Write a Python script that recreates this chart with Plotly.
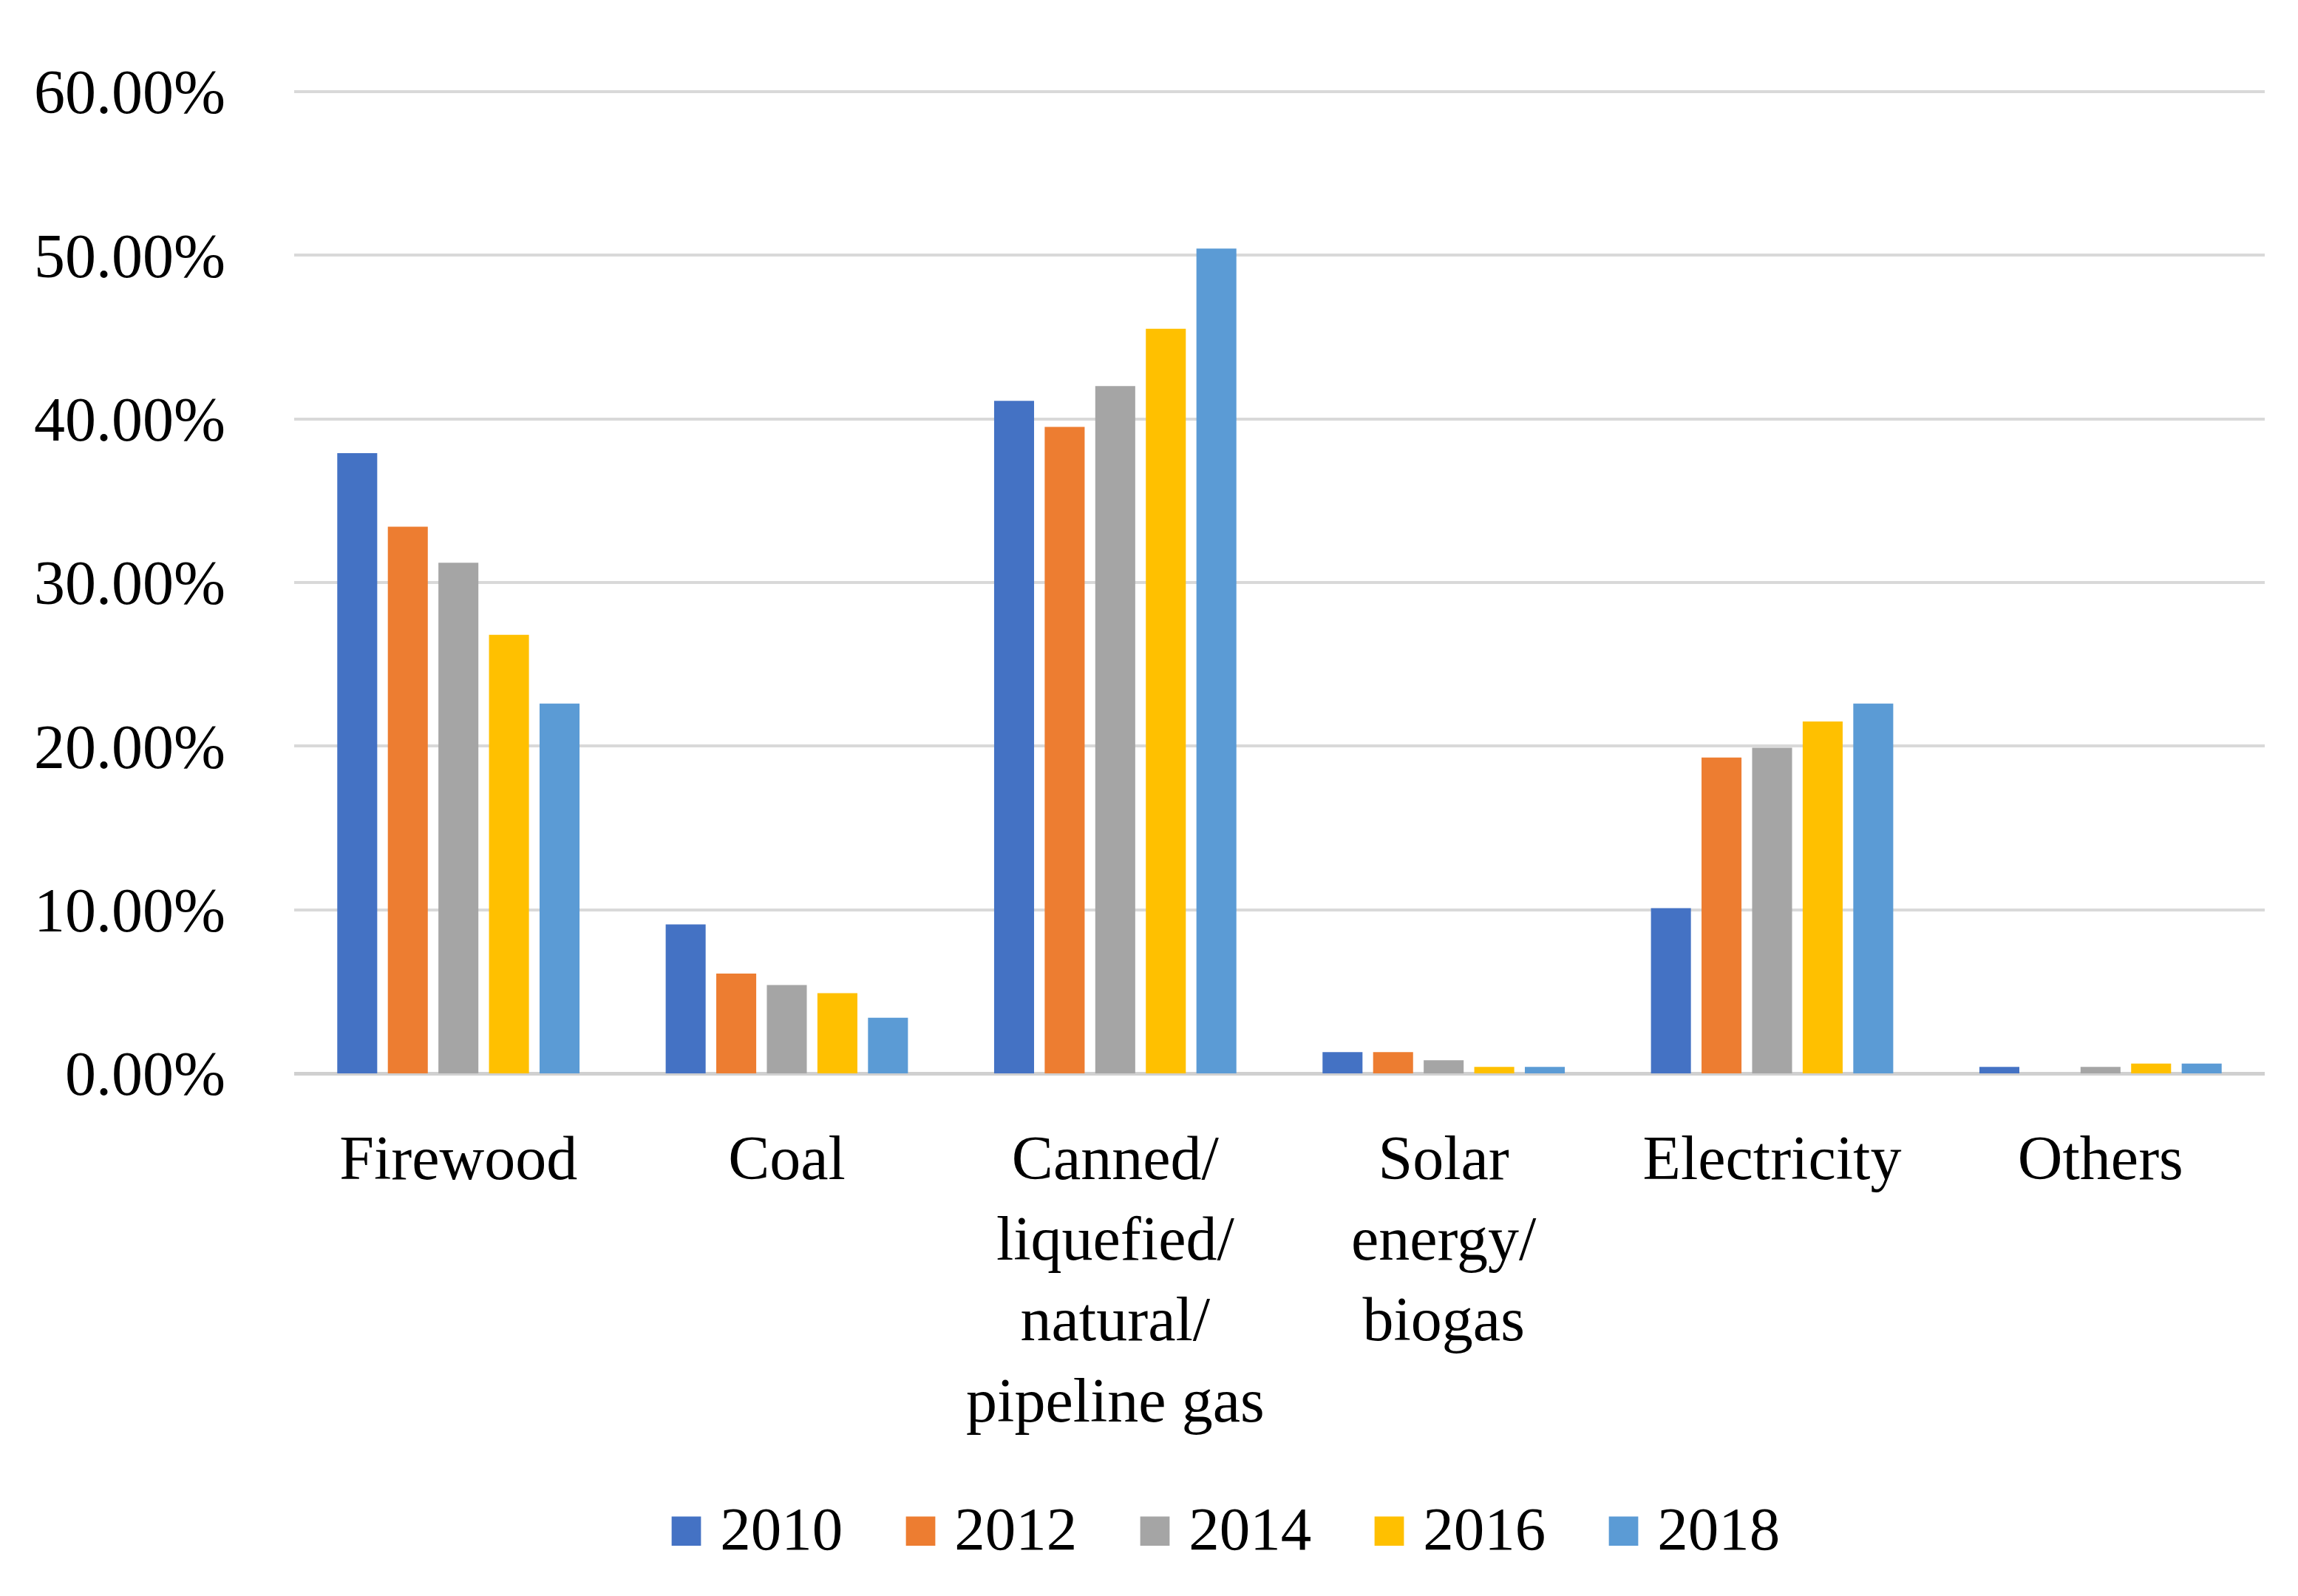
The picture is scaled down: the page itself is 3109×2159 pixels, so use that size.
import plotly.graph_objects as go

categories = ["Firewood", "Coal", "Canned/<br>liquefied/<br>natural/<br>pipeline gas",
              "Solar<br>energy/<br>biogas", "Electricity", "Others"]
years = ["2010", "2012", "2014", "2016", "2018"]
values = {
    "2010": [37.9, 9.1, 41.1, 1.3, 10.1, 0.4],
    "2012": [33.4, 6.1, 39.5, 1.3, 19.3, 0.0],
    "2014": [31.2, 5.4, 42.0, 0.8, 19.9, 0.4],
    "2016": [26.8, 4.9, 45.5, 0.4, 21.5, 0.6],
    "2018": [22.6, 3.4, 50.4, 0.4, 22.6, 0.6],
}
colors = ["#4472C4", "#ED7D31", "#A5A5A5", "#FFC000", "#5B9BD5"]

font_family = "Liberation Serif"

fig = go.Figure()
for yr, c in zip(years, colors):
    fig.add_trace(go.Bar(x=categories, y=[v / 100 for v in values[yr]], name=yr,
                         marker=dict(color=c, line=dict(width=0)),
                         legendgroup=yr, showlegend=False))
for yr, c in zip(years, colors):
    fig.add_trace(go.Scatter(x=[None], y=[None], mode="markers",
                             name='<span style="color:%s;font-size:82px">■</span> %s' % (c, yr),
                             marker=dict(symbol="square", size=1, color="rgba(0,0,0,0)"),
                             legendgroup=yr, showlegend=True))

fig.update_layout(
    width=3109, height=2159,
    margin=dict(l=390, r=53, t=114, b=715),
    paper_bgcolor="white", plot_bgcolor="white",
    font=dict(family=font_family, size=84, color="#000000"),
    barmode="group", bargap=0.23, bargroupgap=0.21,
    showlegend=True,
    legend=dict(orientation="h", x=0.472, xanchor="center", y=-0.46, yanchor="middle",
                itemwidth=30, font=dict(size=83, family=font_family),
                entrywidth=272, entrywidthmode="pixels"),
    xaxis=dict(showgrid=False, showline=False, ticks="", ticklabelstandoff=58,
               tickfont=dict(size=84, family=font_family)),
    yaxis=dict(range=[0, 0.6008], tickvals=[0, 0.1, 0.2, 0.3, 0.4, 0.5, 0.6],
               tickformat=".2%", showgrid=True, gridcolor="#D9D9D9", gridwidth=4,
               zeroline=True, zerolinecolor="#D0D0D0", zerolinewidth=5,
               showline=False, ticks="", ticklabelstandoff=92,
               tickfont=dict(size=84, family=font_family)),
)

fig.write_html("out.html")
